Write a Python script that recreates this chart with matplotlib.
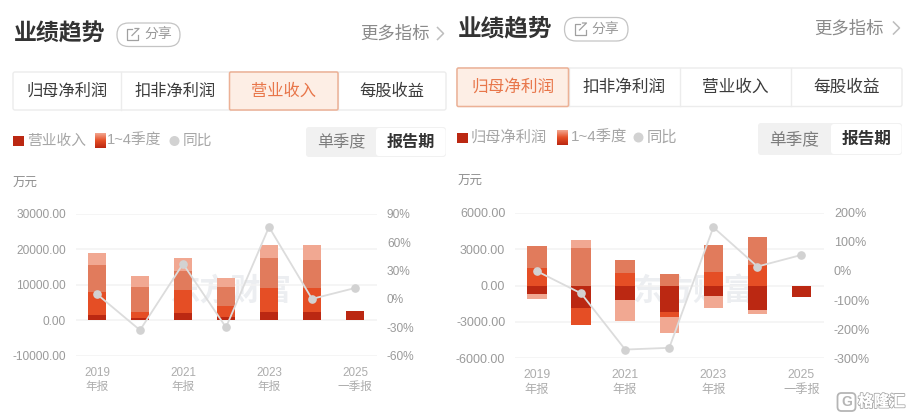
import numpy as np
import matplotlib
matplotlib.use("Agg")
import matplotlib.pyplot as plt
import matplotlib.patheffects as pe
from matplotlib.colors import LinearSegmentedColormap
from matplotlib.patches import FancyBboxPatch, Rectangle, Circle

plt.rcParams['font.family'] = ['Liberation Sans', 'Noto Sans CJK SC']

W, H = 911, 419

# x axis
categories = ["2019", "2020", "2021", "2022", "2023", "2024", "2025"]
tick_labels = ["2019\n年报", "2021\n年报", "2023\n年报", "2025\n一季报"]

# left chart: 营业收入, quarter contributions (万元)
rev_q1 = [1600, 600, 1900, 800, 2400, 2200, 2500]
rev_q2 = [6400, 1600, 6500, 3300, 6600, 6900, 0]
rev_q3 = [7500, 7200, 5500, 5300, 8500, 7900, 0]
rev_q4 = [3300, 3100, 3600, 2600, 3800, 4300, 0]
rev_yoy = [5, -33, 37, -30, 76, 0, 11.5]
rev_ticks = [-10000, 0, 10000, 20000, 30000]
rev_yoy_ticks = [-60, -30, 0, 30, 60, 90]

# right chart: 归母净利润, quarter contributions (万元)
np_q1 = [-740, -1840, -1210, -2220, -850, -1980, -930]
np_q2 = [1480, -1400, 1040, -360, 1130, 1730, 0]
np_q3 = [1760, 3130, 1100, 960, 2190, 2280, 0]
np_q4 = [-410, 580, -1700, -1350, -990, -330, 0]
np_yoy = [-1, -77, -270, -264, 150, 15, 55]
np_ticks = [-6000, -3000, 0, 3000, 6000]
np_yoy_ticks = [-300, -200, -100, 0, 100, 200]

BAR_COLORS = ["#bb2812", "#e54e25", "#e17b5c", "#f1a892"]
TICK_GRAY = "#9a9a9a"
DOT_GRAY = "#d2d2d2"


def add_chart(fig, box, quarters, yoy, ticks, yoy_ticks, tick_size):
    x0, y0, x1, y1 = box
    ax = fig.add_axes([x0 / W, 1 - y1 / H, (x1 - x0) / W, (y1 - y0) / H])
    ax.patch.set_alpha(0)
    x = np.arange(len(categories))

    # positive and negative quarters stack away from zero on their own
    pos = np.zeros(len(categories))
    neg = np.zeros(len(categories))
    for vals, color in zip(quarters, BAR_COLORS):
        vals = np.array(vals, dtype=float)
        bottoms = np.where(vals >= 0, pos, neg)
        ax.bar(x, vals, 0.44, bottom=bottoms, color=color, zorder=2)
        pos += np.clip(vals, 0, None)
        neg += np.clip(vals, None, 0)

    ax.set_xlim(-0.5, len(categories) - 0.5)
    ax.set_ylim(ticks[0], ticks[-1])
    ax.set_yticks(ticks)
    ax.set_yticklabels([f"{t:.2f}" for t in ticks])
    ax.set_xticks(x[::2])
    ax.set_xticklabels(tick_labels, linespacing=1.25)
    ax.tick_params(axis='y', length=0, pad=7, labelsize=tick_size, labelcolor=TICK_GRAY)
    ax.tick_params(axis='x', length=0, pad=8, labelsize=tick_size - 0.2, labelcolor="#adadad")
    ax.grid(axis='y', color="#f3f3f3", linewidth=1.1, zorder=0)
    ax.set_axisbelow(True)
    for s in ax.spines.values():
        s.set_visible(False)

    ax2 = ax.twinx()
    ax2.plot(x, yoy, color="#dcdcdc", linewidth=1.3, marker="o", markersize=5.2,
             markerfacecolor=DOT_GRAY, markeredgecolor=DOT_GRAY, zorder=5)
    ax2.set_ylim(yoy_ticks[0], yoy_ticks[-1])
    ax2.set_yticks(yoy_ticks)
    ax2.set_yticklabels([f"{t}%" for t in yoy_ticks])
    ax2.tick_params(axis='y', length=0, pad=7.5, labelsize=tick_size, labelcolor=TICK_GRAY)
    for s in ax2.spines.values():
        s.set_visible(False)
    return ax


def add_header(ui, left, y_title, title_size, share, more_x, chev_x):
    ui.text(left, y_title, "业绩趋势", fontsize=title_size, fontweight="bold",
            color="#333333", va="center", ha="left")
    px0, px1 = share
    ui.add_patch(FancyBboxPatch((px0 + 11, y_title - 0.5), px1 - px0 - 22, 1.5,
                                boxstyle="round,pad=0,rounding_size=11", mutation_aspect=1,
                                fc="white", ec="#c4c4c4", lw=0))
    ui.add_patch(FancyBboxPatch((px0, y_title - 11.5), px1 - px0, 23.5,
                                boxstyle="round,pad=0,rounding_size=11.7",
                                fc="white", ec="#c4c4c4", lw=0.9))
    # share icon
    ix = px0 + 10
    iy = y_title
    ui.plot([ix + 5, ix, ix, ix + 11, ix + 11], [iy - 5, iy - 5, iy + 6, iy + 6, iy + 1],
            color="#a0a0a0", lw=0.9)
    ui.plot([ix + 5, ix + 12, ix + 8], [iy + 1, iy - 6, iy - 6], color="#a0a0a0", lw=0.9)
    ui.text(px0 + 27, y_title + 0.5, "分享", fontsize=10, color="#999999", va="center", ha="left")
    ui.text(more_x, y_title - 1, "更多指标", fontsize=12.5, color="#8a8a8a", va="center", ha="left")
    ui.plot([chev_x, chev_x + 6, chev_x], [y_title - 7, y_title - 1, y_title + 5],
            color="#bdbdbd", lw=1.1)


def add_tabs(ui, box, dividers, active, size):
    x0, y0, x1, y1 = box
    names = ["归母净利润", "扣非净利润", "营业收入", "每股收益"]
    ui.add_patch(FancyBboxPatch((x0, y0), x1 - x0, y1 - y0,
                                boxstyle="round,pad=0,rounding_size=2",
                                fc="white", ec="#ececec", lw=1))
    edges = [x0] + dividers + [x1]
    for d in dividers:
        ui.plot([d, d], [y0, y1], color="#ececec", lw=1)
    ui.add_patch(FancyBboxPatch((edges[active], y0), edges[active + 1] - edges[active], y1 - y0,
                                boxstyle="round,pad=0,rounding_size=1.5",
                                fc="#fdeee5", ec="#ecb196", lw=1.1, zorder=3))
    for i, name in enumerate(names):
        ui.text((edges[i] + edges[i + 1]) / 2, (y0 + y1) / 2, name, fontsize=size,
                color="#e8764a" if i == active else "#3c3c3c", va="center", ha="center", zorder=4)


def add_legend(ui, y, square, name, grad, grad_text, dot_x, size):
    ui.add_patch(Rectangle((square, y - 5), 10.5, 10, fc="#bb2812", lw=0))
    ui.text(square + 14, y, name, fontsize=size, color="#a6a6a6", va="center", ha="left")
    ui.imshow(np.linspace(0, 1, 32)[:, None], cmap=GRAD, aspect="auto", zorder=2,
              extent=(grad, grad + 10.5, y + 7.5, y - 7.5))
    ui.text(grad_text, y, "1~4季度", fontsize=size, color="#a6a6a6", va="center", ha="left")
    ui.add_patch(Circle((dot_x, y), 5, fc=DOT_GRAY, lw=0))
    ui.text(dot_x + 8.5, y, "同比", fontsize=size, color="#a6a6a6", va="center", ha="left")


def add_toggle(ui, box, split, size):
    x0, y0, x1, y1 = box
    ui.add_patch(FancyBboxPatch((x0, y0), x1 - x0, y1 - y0,
                                boxstyle="round,pad=0,rounding_size=3", fc="#f1f1f1", lw=0))
    ui.add_patch(FancyBboxPatch((split, y0 + 1), x1 - split - 0.5, y1 - y0 - 2,
                                boxstyle="round,pad=0,rounding_size=3", fc="white", lw=0, zorder=2))
    ui.text((x0 + split) / 2, (y0 + y1) / 2 + 0.5, "单季度", fontsize=size, color="#7d7d7d",
            va="center", ha="center", zorder=3)
    ui.text((split + x1) / 2, (y0 + y1) / 2 + 0.5, "报告期", fontsize=size, fontweight="bold",
            color="#333333", va="center", ha="center", zorder=3)


GRAD = LinearSegmentedColormap.from_list("q", ["#f2a58f", "#e54e25", "#bb2812"])

fig = plt.figure(figsize=(W / 100, H / 100), dpi=100, facecolor="white")

# page furniture drawn in pixel coordinates
ui = fig.add_axes([0, 0, 1, 1], zorder=0)
ui.set_xlim(0, W)
ui.set_ylim(H, 0)
ui.axis("off")

add_header(ui, 13.5, 34.5, 16.5, (117, 180), 360.5, 437.5)
add_header(ui, 458, 29, 17, (564.5, 628), 814, 893.5)
add_tabs(ui, (13, 72, 446, 110), [121, 229.5, 338], 2, 11.7)
add_tabs(ui, (457, 68, 902, 106.5), [568.5, 679.5, 791], 0, 12)
add_legend(ui, 141, 13, "营业收入", 95, 107, 174.5, 10.6)
add_legend(ui, 137.5, 457, "归母净利润", 557, 570.5, 638.5, 11)
add_toggle(ui, (306, 127, 446, 157), 376, 11.6)
add_toggle(ui, (758, 123, 902, 155), 831, 12)

ui.text(13, 184, "万元", fontsize=9, color="#8f8f8f", va="center", ha="left")
ui.text(458, 182, "万元", fontsize=9, color="#8f8f8f", va="center", ha="left")

# watermarks sit under the charts
for wx, wy in [(230, 292), (693, 292)]:
    ui.text(wx, wy, "东方财富", fontsize=22, fontweight="bold", color="#eceef1",
            va="center", ha="center", zorder=1)

# 格隆汇 logo
ui.add_patch(FancyBboxPatch((837.5, 393), 18, 18, boxstyle="round,pad=0,rounding_size=4",
                            fc="white", ec="#b5b5b5", lw=1.3))
ui.text(846.5, 402, "G", fontsize=10, fontweight="bold", color="#b5b5b5", va="center", ha="center")
logo = ui.text(858, 402, "格隆汇", fontsize=11.3, fontweight="bold", color="white",
               va="center", ha="left")
logo.set_path_effects([pe.withStroke(linewidth=1.4, foreground="#aaaaaa"), pe.Normal()])

ui.set_xlim(0, W)
ui.set_ylim(H, 0)

add_chart(fig, (75.5, 213.7, 376.5, 355.7), [rev_q1, rev_q2, rev_q3, rev_q4], rev_yoy,
          rev_ticks, rev_yoy_ticks, 8.6)
add_chart(fig, (515, 212.7, 823.5, 358.3), [np_q1, np_q2, np_q3, np_q4], np_yoy,
          np_ticks, np_yoy_ticks, 9)

fig.savefig("out.png", dpi=100)
